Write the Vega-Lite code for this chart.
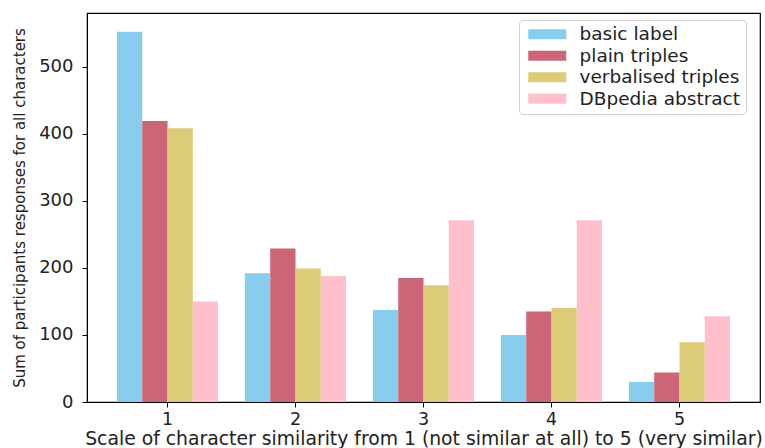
{
  "$schema": "https://vega.github.io/schema/vega-lite/v6.json",
  "width": 673,
  "height": 389,
  "autosize": {"type": "none"},
  "padding": {"left": 87, "top": 13, "right": 5, "bottom": 46},
  "background": "white",
  "config": {
    "font": "DejaVu Sans",
    "view": {"stroke": "#000000", "strokeWidth": 1.2},
    "axis": {"grid": false, "domainColor": "#000000", "tickColor": "#000000", "labelColor": "#222222", "titleColor": "#222222", "titleFontWeight": "normal", "labelFont": "DejaVu Sans", "titleFont": "DejaVu Sans"}
  },
  "data": {
    "values": [
      {"score": "1", "condition": "basic label", "count": 552},
      {"score": "1", "condition": "plain triples", "count": 419},
      {"score": "1", "condition": "verbalised triples", "count": 408},
      {"score": "1", "condition": "DBpedia abstract", "count": 150},
      {"score": "2", "condition": "basic label", "count": 192},
      {"score": "2", "condition": "plain triples", "count": 229},
      {"score": "2", "condition": "verbalised triples", "count": 199},
      {"score": "2", "condition": "DBpedia abstract", "count": 188},
      {"score": "3", "condition": "basic label", "count": 137},
      {"score": "3", "condition": "plain triples", "count": 185},
      {"score": "3", "condition": "verbalised triples", "count": 174},
      {"score": "3", "condition": "DBpedia abstract", "count": 271},
      {"score": "4", "condition": "basic label", "count": 100},
      {"score": "4", "condition": "plain triples", "count": 135},
      {"score": "4", "condition": "verbalised triples", "count": 140},
      {"score": "4", "condition": "DBpedia abstract", "count": 271},
      {"score": "5", "condition": "basic label", "count": 30},
      {"score": "5", "condition": "plain triples", "count": 44},
      {"score": "5", "condition": "verbalised triples", "count": 89},
      {"score": "5", "condition": "DBpedia abstract", "count": 128}
    ]
  },
  "mark": {"type": "bar"},
  "encoding": {
    "x": {
      "field": "score",
      "type": "nominal",
      "scale": {"paddingInner": 0.21, "paddingOuter": 0.234},
      "axis": {
        "title": "Scale of character similarity from 1 (not similar at all) to 5 (very similar)",
        "labelAngle": 0,
        "labelFontSize": 17.5,
        "titleFontSize": 18.8,
        "tickSize": 5,
        "labelPadding": 3,
        "titlePadding": 2
      }
    },
    "xOffset": {
      "field": "condition",
      "type": "nominal",
      "sort": ["basic label", "plain triples", "verbalised triples", "DBpedia abstract"],
      "scale": {"paddingInner": 0, "paddingOuter": 0}
    },
    "y": {
      "field": "count",
      "type": "quantitative",
      "scale": {"domain": [0, 580], "nice": false},
      "axis": {
        "title": "Sum of participants responses for all characters",
        "values": [0, 100, 200, 300, 400, 500],
        "labelFontSize": 18,
        "titleFontSize": 15,
        "tickSize": 5,
        "labelPadding": 9,
        "titlePadding": 11
      }
    },
    "color": {
      "field": "condition",
      "type": "nominal",
      "sort": ["basic label", "plain triples", "verbalised triples", "DBpedia abstract"],
      "scale": {
        "domain": ["basic label", "plain triples", "verbalised triples", "DBpedia abstract"],
        "range": ["#88CCEE", "#CC6677", "#DDCC77", "#FFC0CB"]
      },
      "legend": {
        "title": null,
        "orient": "none",
        "legendX": 432,
        "legendY": 7,
        "symbolType": "M-1,-1H6.6V1H-1Z",
        "symbolSize": 100,
        "symbolStrokeWidth": 0,
        "symbolOpacity": 1,
        "labelFontSize": 18.5,
        "labelLimit": 400,
        "labelColor": "#222222",
        "labelOffset": 37,
        "rowPadding": 2.5,
        "padding": 5,
        "strokeColor": "#d0d0d0",
        "fillColor": "white",
        "cornerRadius": 4
      }
    }
  }
}
